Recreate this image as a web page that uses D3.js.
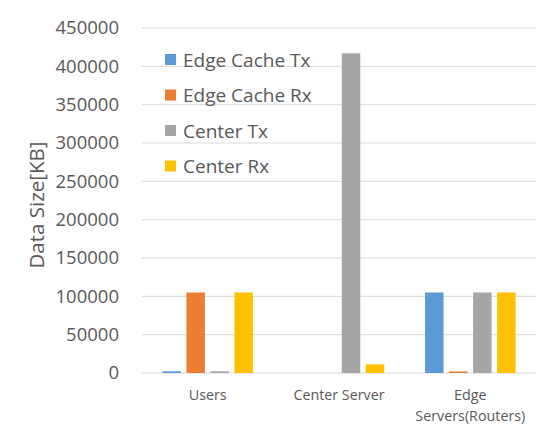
<!DOCTYPE html>
<html>
<head>
<meta charset="utf-8">
<script src="https://cdn.jsdelivr.net/npm/d3@7"></script>
<style>
  body { margin: 0; background: #fff; }
  text { font-family: "Open Sans", sans-serif; fill: #595959; }
</style>
</head>
<body>
<svg id="chart" width="555" height="436"></svg>
<script>
// categories and series
const categories = ['Users', 'Center Server', 'Edge Servers(Routers)'];
const categoryLines = [['Users'], ['Center Server'], ['Edge', 'Servers(Routers)']];
const seriesNames = ['Edge Cache Tx', 'Edge Cache Rx', 'Center Tx', 'Center Rx'];
const edgeCacheTx = [2200, 0, 105000];
const edgeCacheRx = [105000, 0, 2000];
const centerTx = [2200, 417000, 105000];
const centerRx = [105000, 11300, 105000];
const yTicks = [0, 50000, 100000, 150000, 200000, 250000, 300000, 350000, 400000, 450000];

const colors = ['#5B9BD5', '#ED7D31', '#A5A5A5', '#FFC000'];
const allSeries = [edgeCacheTx, edgeCacheRx, centerTx, centerRx];

const svg = d3.select('#chart');
const margin = { left: 142, right: 19, top: 28, bottom: 63 };
const width = 555, height = 436;

const x = d3.scaleBand().domain(categories).range([margin.left, width - margin.right]);
const xInner = d3.scaleBand().domain(seriesNames).range([0, x.bandwidth()]).paddingInner(0.23).paddingOuter(0.85);
const y = d3.scaleLinear().domain([0, 450000]).range([height - margin.bottom, margin.top]);

// gridlines
svg.append('g')
  .selectAll('line')
  .data(yTicks)
  .join('line')
  .attr('x1', margin.left)
  .attr('x2', width - margin.right)
  .attr('y1', d => y(d))
  .attr('y2', d => y(d))
  .attr('stroke', '#d9d9d9')
  .attr('stroke-width', 1);

// y axis labels
const yAxis = d3.axisLeft(y).tickValues(yTicks).tickSize(0).tickPadding(0).tickFormat(d3.format('d'));
svg.append('g')
  .attr('transform', `translate(${margin.left - 23},0)`)
  .call(yAxis)
  .call(g => g.select('.domain').remove())
  .selectAll('text')
  .style('font-family', '"Open Sans", sans-serif')
  .style('font-size', '18.5px')
  .attr('fill', '#595959');

// bars
const groups = svg.append('g')
  .selectAll('g')
  .data(categories)
  .join('g')
  .attr('transform', d => `translate(${x(d)},0)`);

groups.selectAll('rect')
  .data((c, i) => seriesNames.map((s, j) => ({ s, v: allSeries[j][i], color: colors[j] })))
  .join('rect')
  .attr('x', d => xInner(d.s))
  .attr('width', xInner.bandwidth())
  .attr('y', d => y(d.v))
  .attr('height', d => y(0) - y(d.v))
  .attr('fill', d => d.color);

// x labels
const xl = svg.append('g')
  .selectAll('text')
  .data(categories)
  .join('text')
  .attr('x', d => x(d) + x.bandwidth() / 2)
  .attr('y', 400)
  .attr('text-anchor', 'middle')
  .style('font-size', '14.3px');
xl.selectAll('tspan')
  .data((d, i) => categoryLines[i])
  .join('tspan')
  .attr('x', function () { return d3.select(this.parentNode).attr('x'); })
  .attr('dy', (d, i) => i === 0 ? 0 : 21)
  .text(d => d);

// y axis title
svg.append('text')
  .attr('transform', 'translate(44,205) rotate(-90)')
  .attr('text-anchor', 'middle')
  .style('font-size', '20.5px')
  .text('Data Size[KB]');

// legend
const legend = svg.append('g')
  .selectAll('g')
  .data(seriesNames)
  .join('g')
  .attr('transform', (d, i) => `translate(165,${60 + i * 35.5})`);
legend.append('rect')
  .attr('x', 0).attr('y', -6)
  .attr('width', 11).attr('height', 11)
  .attr('fill', (d, i) => colors[i]);
legend.append('text')
  .attr('x', 18).attr('y', 6.5)
  .style('font-size', '19px')
  .text(d => d);
</script>
</body>
</html>
